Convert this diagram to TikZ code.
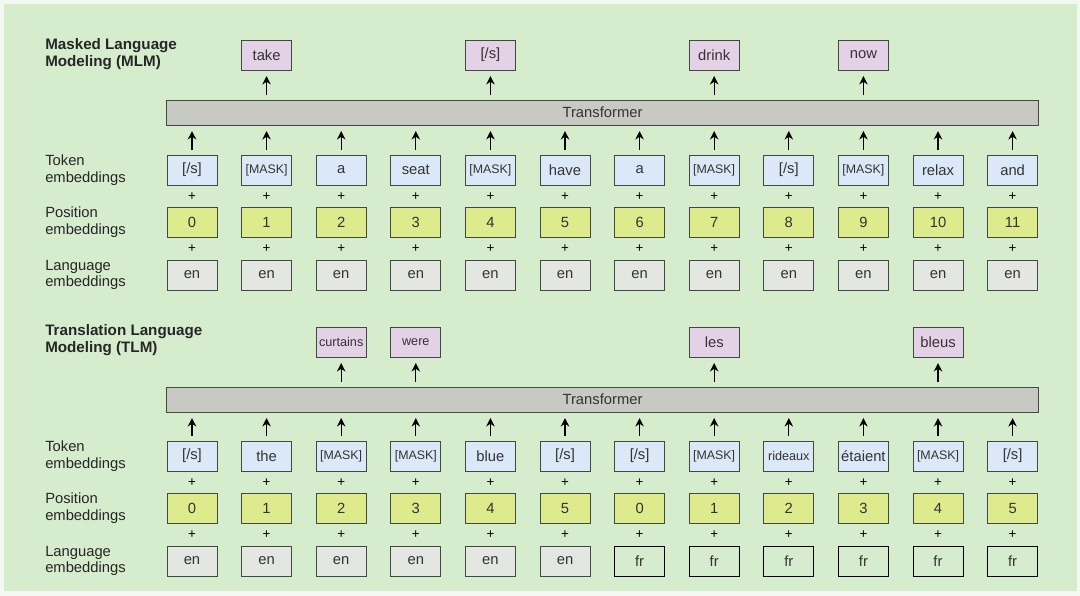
\documentclass[tikz,border=0pt]{standalone}
\usepackage{fontspec}
\setmainfont{Liberation Sans}
\usetikzlibrary{positioning, arrows.meta}

\definecolor{pagewhite}{HTML}{F3F9F1}
\definecolor{panelgreen}{HTML}{D5ECCD}
\definecolor{tokblue}{HTML}{DAE8F8}
\definecolor{posyellow}{HTML}{DDEB8C}
\definecolor{langgray}{HTML}{E4E6E2}
\definecolor{frgreen}{HTML}{D6ECCF}
\definecolor{predpink}{HTML}{E3D2E6}
\definecolor{transgray}{HTML}{C8C9C2}
\definecolor{edgecol}{HTML}{404A40}

\newcommand{\msk}{{\fontsize{8.8}{10}\selectfont[MASK]}}
\newcommand{\eos}{[/s]}
\newcommand{\smallword}[1]{{\fontsize{9}{10}\selectfont #1}}

\begin{document}
\begin{tikzpicture}[
    x=0.025cm, y=-0.025cm,
    >={Stealth[length=6pt, width=6pt]},
    font=\fontsize{10.5}{12}\selectfont,
    cellbox/.style={rectangle, draw=edgecol, semithick, text=black!80, minimum width=1.25cm, minimum height=0.75cm, inner sep=1pt},
    tokbox/.style={cellbox, fill=tokblue},
    posbox/.style={cellbox, fill=posyellow},
    langbox/.style={cellbox, fill=langgray},
    frbox/.style={cellbox, draw=black, fill=frgreen},
    predbox/.style={cellbox, fill=predpink},
    plussign/.style={inner sep=0pt, font=\fontsize{9.5}{10}\selectfont},
    transbox/.style={rectangle, draw=edgecol, semithick, fill=transgray, text=black!80, minimum width=21.78cm, minimum height=0.625cm},
    rowlabel/.style={anchor=west, align=left, inner sep=0pt, text=black!85},
    titletext/.style={anchor=north west, align=left, inner sep=0pt, font=\fontsize{10.8}{12.4}\selectfont\bfseries, text=black!85},
    arrow/.style={->, line width=0.9pt, shorten <=3pt, shorten >=4pt},
]

% page and panel
\useasboundingbox (0,0) rectangle (1080,596);
\fill[pagewhite] (0,0) rectangle (1080,596);
\fill[panelgreen] (4,4) rectangle (1077,591);

% ---------------- MLM ----------------
\node[titletext] (mlmtitle) at (45,38) {Masked Language\\Modeling (MLM)};
\node[rowlabel] (mtoklab) at (45,170) {Token\\embeddings};
\node[rowlabel] (mposlab) at (45,222) {Position\\embeddings};
\node[rowlabel] (mlanglab) at (45,275) {Language\\embeddings};

\node[transbox] (mtr) at (602.5,112.5) {Transformer};

\foreach \w [count=\i] in {\eos,\msk,a,seat,\msk,have,a,\msk,\eos,\msk,relax,and} {
    \pgfmathtruncatemacro\p{\i-1}
    \node[tokbox] (mtok\i) at ({117.4+74.6*\i},170) {\w};
    \node[plussign] (mpa\i) at ({117.4+74.6*\i},196.5) {+};
    \node[posbox] (mpos\i) at ({117.4+74.6*\i},222) {\p};
    \node[plussign] (mpb\i) at ({117.4+74.6*\i},249) {+};
    \node[langbox] (mlang\i) at ({117.4+74.6*\i},275) {en};
    \draw[arrow] (mtok\i) -- (mtok\i |- mtr.south);
}

\foreach \i/\w in {2/take, 5/\eos, 8/drink, 10/now} {
    \node[predbox] (mout\i) at ({117.4+74.6*\i},55) {\w};
    \draw[arrow] (mtr.north -| mout\i) -- (mout\i);
}

% ---------------- TLM ----------------
\node[titletext] (tlmtitle) at (45,324) {Translation Language\\Modeling (TLM)};
\node[rowlabel] (ttoklab) at (45,456) {Token\\embeddings};
\node[rowlabel] (tposlab) at (45,508) {Position\\embeddings};
\node[rowlabel] (tlanglab) at (45,561) {Language\\embeddings};

\node[transbox] (ttr) at (602.5,399.5) {Transformer};

\foreach \w [count=\i] in {\eos,the,\msk,\msk,blue,\eos,\eos,\msk,\smallword{rideaux},étaient,\msk,\eos} {
    \pgfmathtruncatemacro\p{mod(\i-1,6)}
    \node[tokbox] (ttok\i) at ({117.4+74.6*\i},456) {\w};
    \node[plussign] (tpa\i) at ({117.4+74.6*\i},482.5) {+};
    \node[posbox] (tpos\i) at ({117.4+74.6*\i},508) {\p};
    \node[plussign] (tpb\i) at ({117.4+74.6*\i},535) {+};
    \draw[arrow] (ttok\i) -- (ttok\i |- ttr.south);
}
\foreach \i in {1,...,6}
    \node[langbox] (tlang\i) at ({117.4+74.6*\i},561) {en};
\foreach \i in {7,...,12}
    \node[frbox] (tlang\i) at ({117.4+74.6*\i},561) {fr};

\foreach \i/\w in {3/\smallword{curtains}, 4/\smallword{were}, 8/les, 11/bleus} {
    \node[predbox] (tout\i) at ({117.4+74.6*\i},342) {\w};
    \draw[arrow] (ttr.north -| tout\i) -- (tout\i);
}

\end{tikzpicture}
\end{document}
